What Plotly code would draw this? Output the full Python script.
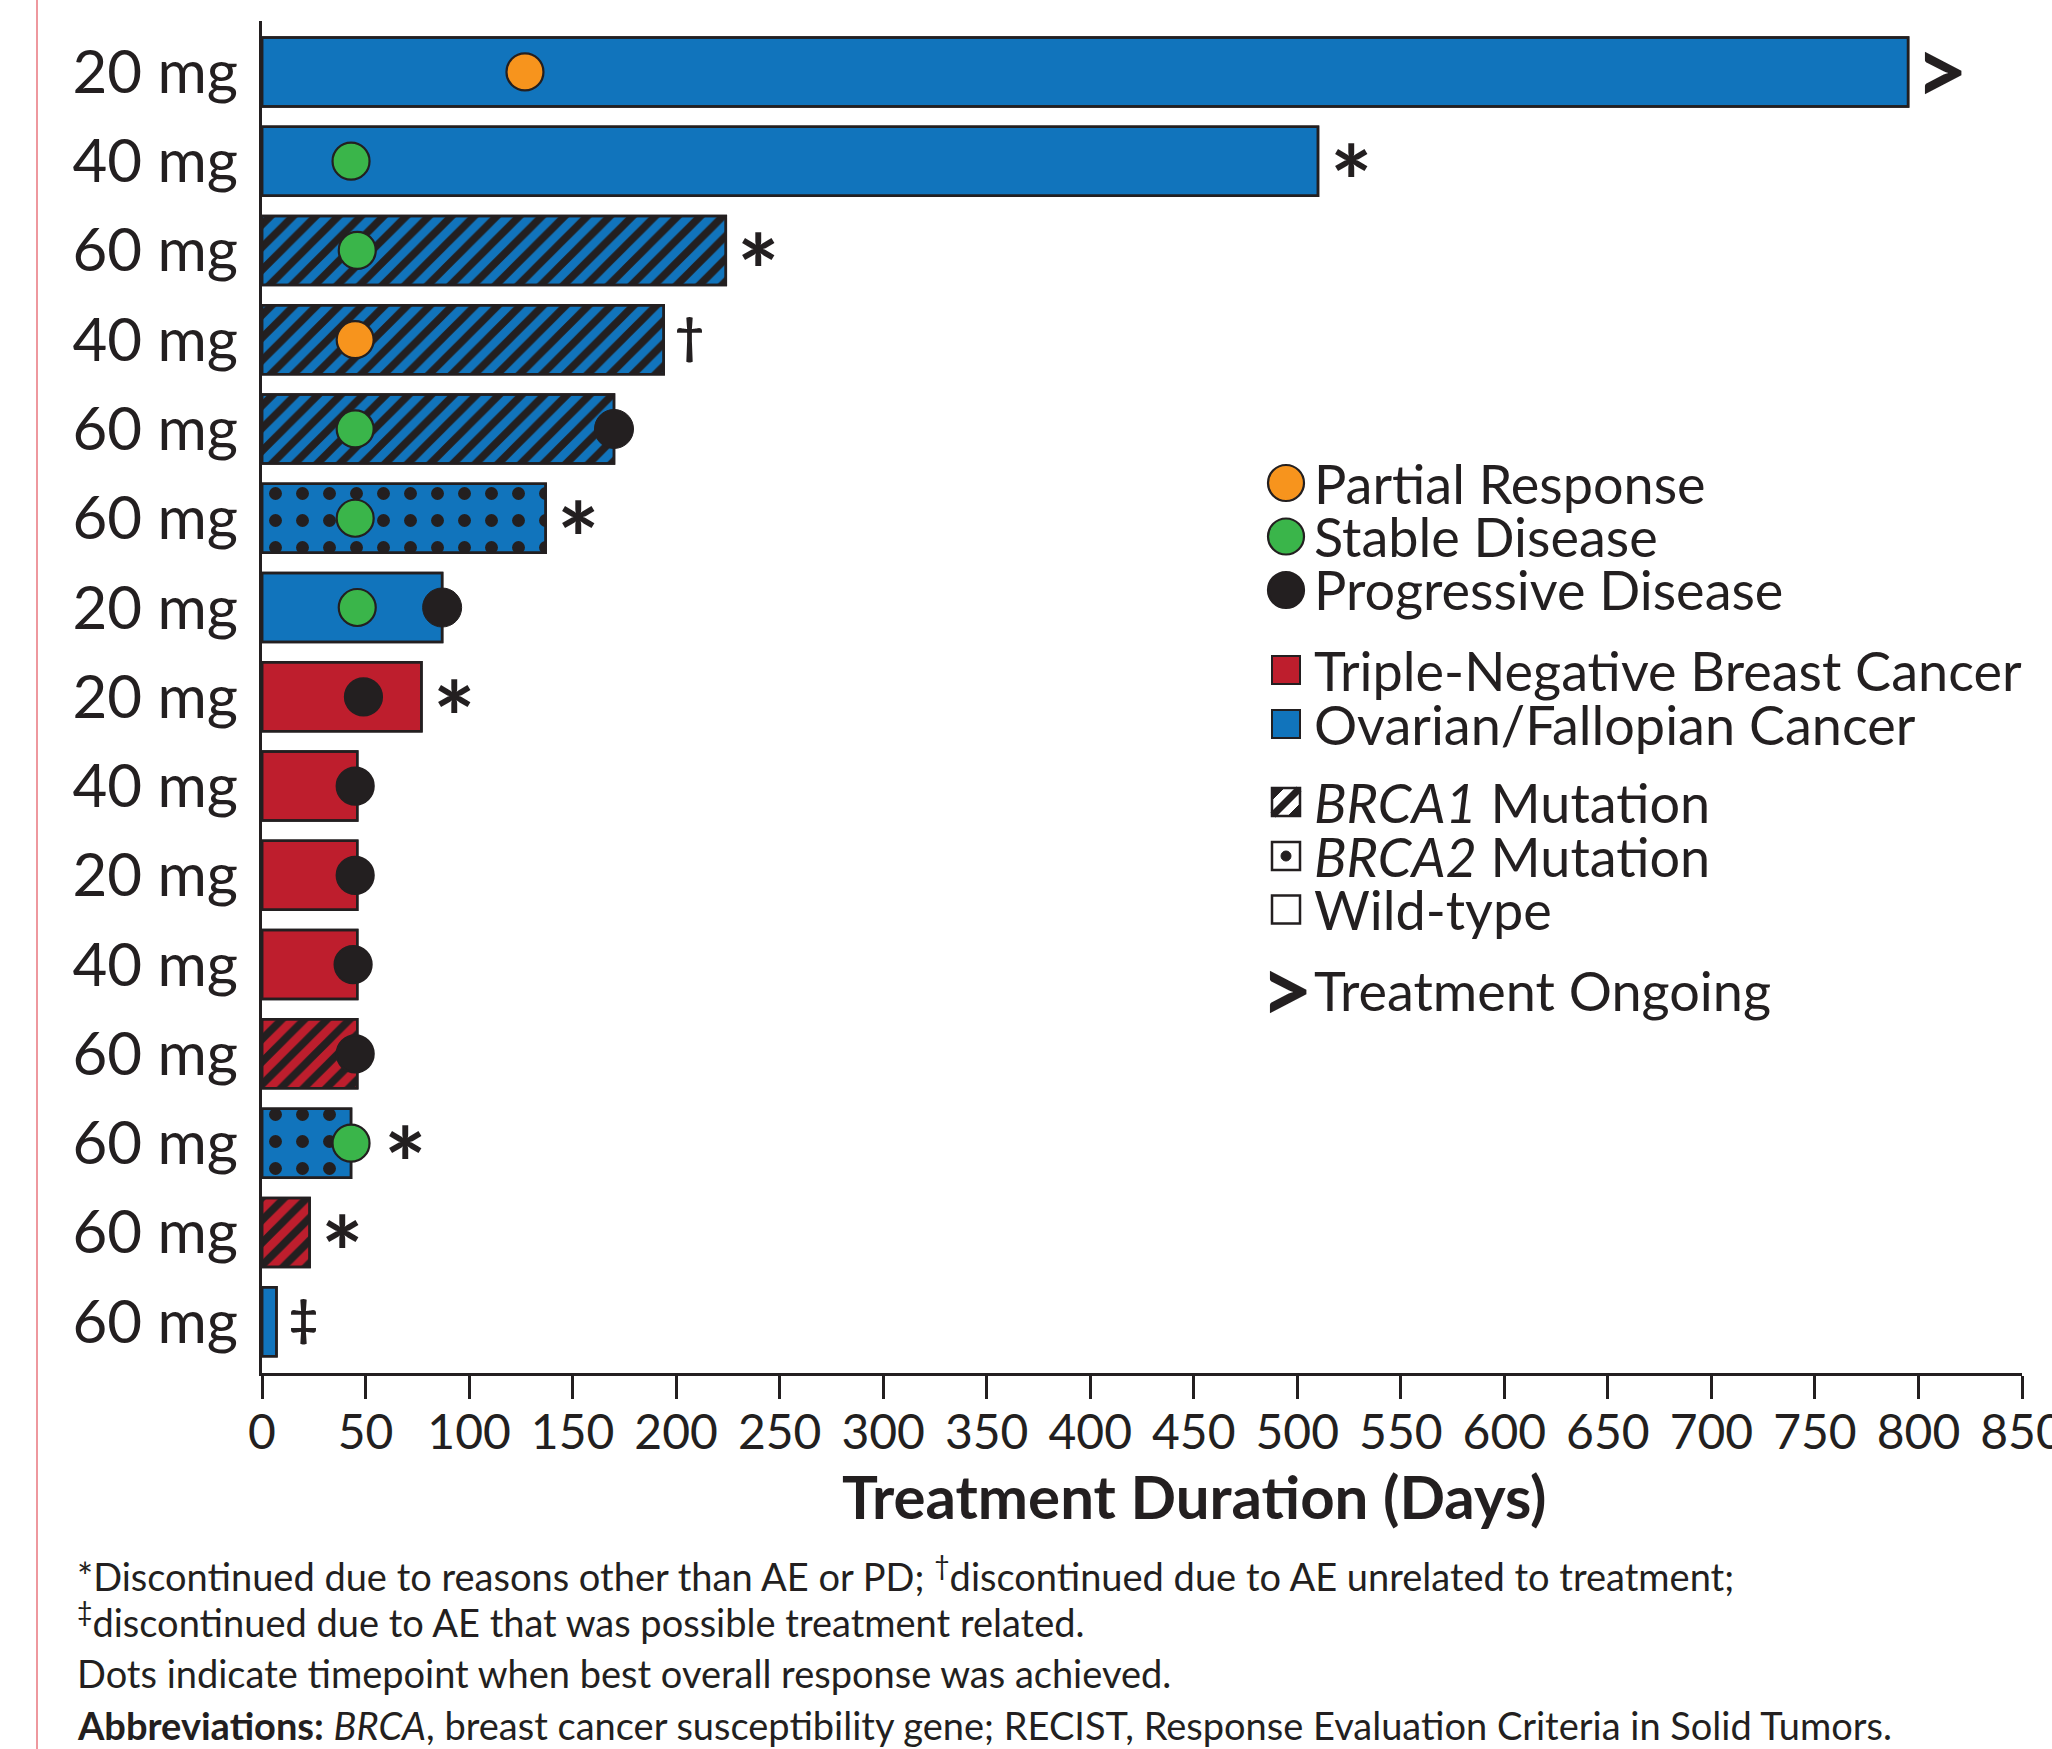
import plotly.graph_objects as go

# ---------------- data (top to bottom) ----------------
dose_labels = ["20 mg", "40 mg", "60 mg", "40 mg", "60 mg", "60 mg", "20 mg", "20 mg",
               "40 mg", "20 mg", "40 mg", "60 mg", "60 mg", "60 mg", "60 mg"]
duration_days = [795, 510, 224, 194, 170, 137, 87, 77, 46, 46, 46, 46, 43, 23, 7]
tumor_type = ["OFC", "OFC", "OFC", "OFC", "OFC", "OFC", "OFC", "TNBC",
              "TNBC", "TNBC", "TNBC", "TNBC", "OFC", "TNBC", "OFC"]
mutation = ["WT", "WT", "BRCA1", "BRCA1", "BRCA1", "BRCA2", "WT", "WT",
            "WT", "WT", "WT", "BRCA1", "BRCA2", "BRCA1", "WT"]
best_resp_day = [127, 43, 46, 45, 45, 45, 46, 49, 45, 45, 44, 45, 43, None, None]
best_resp_type = ["PR", "SD", "SD", "PR", "SD", "SD", "SD", "PD", "PD", "PD", "PD", "PD", "SD", None, None]
progression_day = [None, None, None, None, 170, None, 87, None, None, None, None, None, None, None, None]
end_mark = [">", "*", "*", "†", "", "*", "", "*", "", "", "", "", "*", "*", "‡"]

x_ticks = list(range(0, 851, 50))

# ---------------- style ----------------
DARK = "#231F20"
BLUE = "#1174BC"
RED = "#BE1E2D"
ORANGE = "#F7941D"
GREEN = "#3AB54A"
tumor_color = {"OFC": BLUE, "TNBC": RED}
resp_color = {"PR": ORANGE, "SD": GREEN, "PD": DARK}
pattern_shape = {"WT": "", "BRCA1": "/", "BRCA2": "."}
pattern_size = {"WT": 10, "BRCA1": 16, "BRCA2": 27}
pattern_solid = {"WT": 0.3, "BRCA1": 0.47, "BRCA2": 0.18}
FONT = "Lato, 'Noto Sans', sans-serif"

W, H = 2052, 1749
L, R, T, B = 262, 30, 21, 376
PW, PH = W - L - R, H - T - B


def px2paper_x(px):
    return (px - L) / PW


def px2paper_y(py):
    return (H - B - py) / PH


rows = list(range(len(duration_days)))
colors = [tumor_color[t] for t in tumor_type]
BAR_W = 0.773

fig = go.Figure()
# solid bars (tumour type colour)
fig.add_trace(go.Bar(
    orientation="h", x=duration_days, y=rows, width=BAR_W,
    marker=dict(color=colors, line=dict(color=DARK, width=2.5)),
    showlegend=False, hoverinfo="skip",
))
# mutation pattern overlay
fig.add_trace(go.Bar(
    orientation="h", x=duration_days, y=rows, width=BAR_W,
    marker=dict(
        color="rgba(0,0,0,0)",
        line=dict(color=DARK, width=2.5),
        pattern=dict(
            shape=[pattern_shape[m] for m in mutation],
            size=[pattern_size[m] for m in mutation],
            solidity=[pattern_solid[m] for m in mutation],
            fgcolor=DARK, fgopacity=1, bgcolor="rgba(0,0,0,0)", fillmode="replace",
        ),
    ),
    showlegend=False, hoverinfo="skip",
))

# best overall response dots
rx, ry, rc = [], [], []
for i, (d, t) in enumerate(zip(best_resp_day, best_resp_type)):
    if d is not None:
        rx.append(d); ry.append(i); rc.append(resp_color[t])
fig.add_trace(go.Scatter(
    x=rx, y=ry, mode="markers",
    marker=dict(size=37, color=rc, line=dict(color=DARK, width=2.2)),
    showlegend=False, hoverinfo="skip", cliponaxis=False,
))
# progression dots at end of bar
px_, py_ = [], []
for i, d in enumerate(progression_day):
    if d is not None:
        px_.append(d); py_.append(i)
fig.add_trace(go.Scatter(
    x=px_, y=py_, mode="markers",
    marker=dict(size=39, color=DARK, line=dict(color=DARK, width=1)),
    showlegend=False, hoverinfo="skip", cliponaxis=False,
))

annos = []
shapes = []

# end-of-bar symbols
mark_style = {
    "*": dict(size=100, shift=-19, xs=33),
    ">": dict(size=92, shift=3, xs=33),
    "†": dict(size=50, shift=5, xs=26),
    "‡": dict(size=50, shift=5, xs=27),
}
for i, m in enumerate(end_mark):
    if not m:
        continue
    st = mark_style[m]
    xs = st["xs"]
    if best_resp_day[i] is not None and best_resp_day[i] >= duration_days[i] - 2:
        xs += 21  # dot sits on the bar end: symbol placed after it
    annos.append(dict(
        x=duration_days[i], y=i, xref="x", yref="y", text=f"<b>{m}</b>",
        showarrow=False, xanchor="center", yanchor="middle",
        xshift=xs, yshift=st["shift"],
        font=dict(family=FONT, size=st["size"], color=DARK, weight=900),
    ))

# ---------------- legend (drawn) ----------------
leg_x = px2paper_x(1286)
leg_tx = px2paper_x(1312)
legend_circles = [("Partial Response", ORANGE, 483), ("Stable Disease", GREEN, 536.5),
                  ("Progressive Disease", DARK, 590)]
legend_squares = [("Triple-Negative Breast Cancer", RED, 670), ("Ovarian/Fallopian Cancer", BLUE, 724)]
legend_mut = [("<i>BRCA1</i> Mutation", "BRCA1", 802), ("<i>BRCA2</i> Mutation", "BRCA2", 856),
              ("Wild-type", "WT", 909.5)]
legend_ongoing = ("Treatment Ongoing", 990)


def leg_text(txt, py):
    annos.append(dict(x=leg_tx, y=px2paper_y(py), xref="paper", yref="paper", text=txt,
                      showarrow=False, xanchor="left", yanchor="middle",
                      font=dict(family=FONT, size=54, color=DARK)))


for txt, col, py in legend_circles:
    shapes.append(dict(type="circle", xref="paper", yref="paper", xsizemode="pixel", ysizemode="pixel",
                       xanchor=leg_x, yanchor=px2paper_y(py), x0=-18, x1=18, y0=-18, y1=18,
                       fillcolor=col, line=dict(color=DARK, width=2.2)))
    leg_text(txt, py)
for txt, col, py in legend_squares:
    shapes.append(dict(type="rect", xref="paper", yref="paper", xsizemode="pixel", ysizemode="pixel",
                       xanchor=leg_x, yanchor=px2paper_y(py), x0=-14, x1=14, y0=-14, y1=14,
                       fillcolor=col, line=dict(color=DARK, width=2)))
    leg_text(txt, py)
for txt, kind, py in legend_mut:
    ya = px2paper_y(py)
    base = dict(xref="paper", yref="paper", xsizemode="pixel", ysizemode="pixel", xanchor=leg_x, yanchor=ya)
    shapes.append(dict(type="rect", x0=-14, x1=14, y0=-14, y1=14, fillcolor="white",
                       line=dict(color=DARK, width=2.5), **base))
    if kind == "BRCA1":
        shapes.append(dict(type="path", path="M-13,-13 L13,13", line=dict(color=DARK, width=7), **base))
        shapes.append(dict(type="path", path="M-14,14 L-14,2 L-2,14 Z", fillcolor=DARK,
                           line=dict(color=DARK, width=1), **base))
        shapes.append(dict(type="path", path="M14,-14 L2,-14 L14,-2 Z", fillcolor=DARK,
                           line=dict(color=DARK, width=1), **base))
    elif kind == "BRCA2":
        shapes.append(dict(type="circle", x0=-5, x1=5, y0=-5, y1=5, fillcolor=DARK,
                           line=dict(color=DARK, width=1), **base))
    leg_text(txt, py)
annos.append(dict(x=leg_x, y=px2paper_y(legend_ongoing[1]), xref="paper", yref="paper", text="<b>></b>",
                  showarrow=False, xanchor="center", yanchor="middle", yshift=3,
                  font=dict(family=FONT, size=92, color=DARK, weight=900)))
leg_text(legend_ongoing[0], legend_ongoing[1])

# thin red frame line at left
shapes.append(dict(type="line", xref="paper", yref="paper", x0=px2paper_x(37), x1=px2paper_x(37),
                   y0=px2paper_y(H + 5), y1=px2paper_y(-5), line=dict(color="#E8767E", width=1.5)))

# axis title and footnotes
annos.append(dict(x=px2paper_x(1194), y=px2paper_y(1496), xref="paper", yref="paper",
                  text="<b>Treatment Duration (Days)</b>", showarrow=False, xanchor="center",
                  yanchor="middle", font=dict(family=FONT, size=60, color=DARK)))
footnotes = [
    ("*Discontinued due to reasons other than AE or PD; <sup>†</sup>discontinued due to AE unrelated to treatment;", 1574),
    ("<sup>‡</sup>discontinued due to AE that was possible treatment related.", 1620),
    ("Dots indicate timepoint when best overall response was achieved.", 1673),
    ("<b>Abbreviations:</b> <i>BRCA</i>, breast cancer susceptibility gene; RECIST, Response Evaluation Criteria in Solid Tumors.", 1725),
]
for txt, py in footnotes:
    annos.append(dict(x=px2paper_x(75), y=px2paper_y(py), xref="paper", yref="paper", text=txt,
                      showarrow=False, xanchor="left", yanchor="middle",
                      font=dict(family=FONT, size=38, color=DARK)))

fig.update_layout(
    template="none",
    width=W, height=H,
    margin=dict(l=L, r=R, t=T, b=B, pad=0),
    paper_bgcolor="white", plot_bgcolor="white",
    showlegend=False, barmode="overlay",
    shapes=shapes, annotations=annos,
)
fig.update_xaxes(
    range=[0, 850], tickvals=x_ticks, ticktext=[str(v) for v in x_ticks],
    ticks="outside", ticklen=23, tickwidth=2.5, tickcolor=DARK,
    showline=True, linewidth=3, linecolor=DARK, showgrid=False, zeroline=False,
    tickfont=dict(family=FONT, size=48, color=DARK), automargin=False,
    ticklabeloverflow="allow", ticklabelstandoff=-8,
)
fig.update_yaxes(
    range=[14.575, -0.57], tickvals=rows, ticktext=dose_labels,
    ticks="", showline=True, linewidth=3, linecolor=DARK, showgrid=False, zeroline=False,
    tickfont=dict(family=FONT, size=60, color=DARK), automargin=False, ticklabelstandoff=9,
)

fig.write_html("out.html")
